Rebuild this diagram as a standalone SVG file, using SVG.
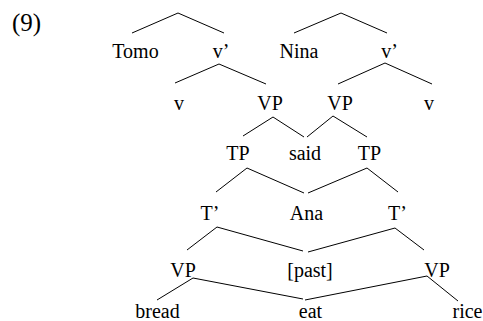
<svg xmlns="http://www.w3.org/2000/svg" width="483" height="321" viewBox="0 0 483 321">
<style>
.t{font-family:'Liberation Serif','Times New Roman',Times,'DejaVu Serif',serif;font-size:20px;fill:#000;text-anchor:middle}
.c polyline{fill:none;stroke:#000;stroke-width:1}
</style>
<rect width="483" height="321" fill="#fff"/>
<text class="t" x="12" y="31" font-size="25" style="font-size:25px;text-anchor:start">(9)</text>
<g class="c" id="connectors">
<polyline points="132,33 178,13 224,33"/>
<polyline points="294,33 341,13 387,33"/>
<polyline points="175,83 219,64 266,84"/>
<polyline points="338,84 385,63 432,84"/>
<polyline points="243,136 273,117 304,137"/>
<polyline points="307,137 333,116 367,137"/>
<polyline points="216,192 247,168 304,193"/>
<polyline points="308,193 367,168 398,192"/>
<polyline points="187,250 217,227 303,251"/>
<polyline points="308,252 395,228 424,250"/>
<polyline points="157,300 193,278 303,299"/>
<polyline points="305,300 427,276 458,301"/>
</g>
<g id="tomo"><text class="t" x="135.5" y="58">Tomo</text></g>
<g id="vbar1"><text class="t" x="221" y="58">v’</text></g>
<g id="nina"><text class="t" x="299" y="58">Nina</text></g>
<g id="vbar2"><text class="t" x="389.5" y="58">v’</text></g>
<g id="v1"><text class="t" x="179" y="110">v</text></g>
<g id="vp1"><text class="t" x="270" y="110">VP</text></g>
<g id="vp2"><text class="t" x="340" y="110">VP</text></g>
<g id="v2"><text class="t" x="429" y="110">v</text></g>
<g id="tp1"><text class="t" x="238" y="160">TP</text></g>
<g id="said"><text class="t" x="305" y="160">said</text></g>
<g id="tp2"><text class="t" x="369.5" y="160">TP</text></g>
<g id="tbar1"><text class="t" x="210" y="220">T’</text></g>
<g id="ana"><text class="t" x="306.5" y="220">Ana</text></g>
<g id="tbar2"><text class="t" x="397.5" y="220">T’</text></g>
<g id="vp3"><text class="t" x="183" y="277">VP</text></g>
<g id="past"><text class="t" x="310" y="277">[past]</text></g>
<g id="vp4"><text class="t" x="437" y="277">VP</text></g>
<g id="bread"><text class="t" x="157.5" y="318">bread</text></g>
<g id="eat"><text class="t" x="310.5" y="318">eat</text></g>
<g id="rice"><text class="t" x="467.5" y="318">rice</text></g>
</svg>
